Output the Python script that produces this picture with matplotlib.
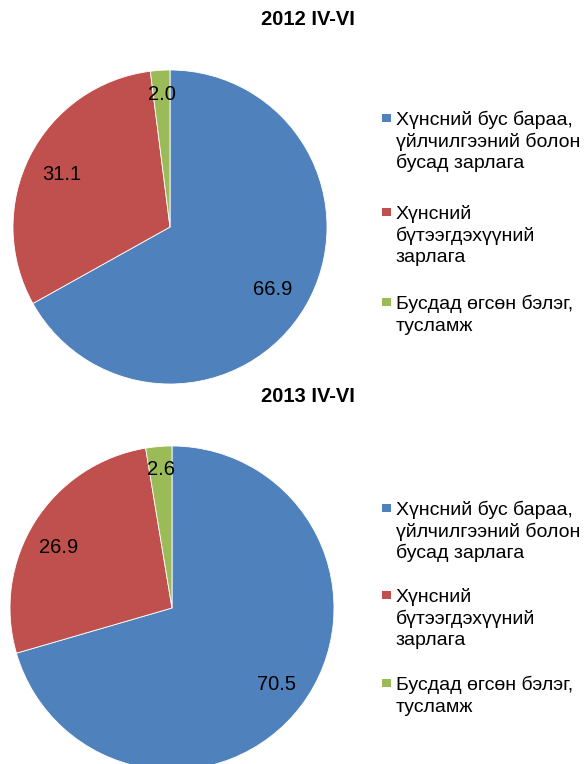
import matplotlib
matplotlib.use("Agg")
import matplotlib.pyplot as plt
from matplotlib.patches import Rectangle
import numpy as np

plt.rcParams["font.family"] = ["Liberation Sans", "DejaVu Sans"]

# ---------------------------------------------------------------
# Data
# ---------------------------------------------------------------
categories = [
    "Хүнсний бус бараа,\nүйлчилгээний болон\nбусад зарлага",
    "Хүнсний\nбүтээгдэхүүний\nзарлага",
    "Бусдад өгсөн бэлэг,\nтусламж",
]
values_2012 = [66.9, 31.1, 2.0]
values_2013 = [70.5, 26.9, 2.6]
titles = ["2012 IV-VI", "2013 IV-VI"]

COLORS = ["#4F81BD", "#C0504D", "#9BBB59"]

W, H = 588, 764
fig = plt.figure(figsize=(W / 100, H / 100), dpi=100)
fig.patch.set_facecolor("white")


def fx(px):
    return px / W


def fy(py):
    return 1 - py / H


panels = [
    # values, title, pie centre/radius (px), title y,
    # label distances, label angle nudges (deg), legend first-line y's
    (values_2012, titles[0], (170, 227, 157), 19.5,
     [0.76, 0.77, 0.86], [0, 0, 0], [118, 212, 302]),
    (values_2013, titles[1], (172, 608, 162), 396,
     [0.79, 0.80, 0.87], [1.4, 3.2, 0], [508, 595, 683]),
]

LINE_PITCH = 21.7

for vals, title, (cx, cy, r), ty, dists, nudges, legend_y in panels:
    ax = fig.add_axes([fx(cx - r), fy(cy + r), 2 * r / W, 2 * r / H])
    wedges, _ = ax.pie(vals, colors=COLORS, startangle=90, counterclock=False,
                       radius=1.0, wedgeprops=dict(edgecolor="white", linewidth=0.6))
    ax.set_xlim(-1, 1)
    ax.set_ylim(-1, 1)
    ax.set_aspect("auto")
    ax.axis("off")

    # data labels inside the slices
    for w, v, d, nd in zip(wedges, vals, dists, nudges):
        ang = np.deg2rad((w.theta1 + w.theta2) / 2 + nd)
        ax.text(d * np.cos(ang), d * np.sin(ang), f"{v:.1f}",
                ha="center", va="center_baseline", fontsize=14.5, color="black")

    fig.text(fx(308), fy(ty), title, ha="center", va="center",
             fontsize=14.5, fontweight="bold")

    # legend, drawn by hand like the Excel one
    for cat, col, y in zip(categories, COLORS, legend_y):
        fig.patches.append(Rectangle((fx(382), fy(y + 4)), 9 / W, 8 / H,
                                     transform=fig.transFigure,
                                     facecolor=col, edgecolor="none"))
        for i, line in enumerate(cat.split("\n")):
            fig.text(fx(396), fy(y + i * LINE_PITCH + 7), line,
                     ha="left", va="baseline", fontsize=14)

fig.savefig("out.png", dpi=100)
